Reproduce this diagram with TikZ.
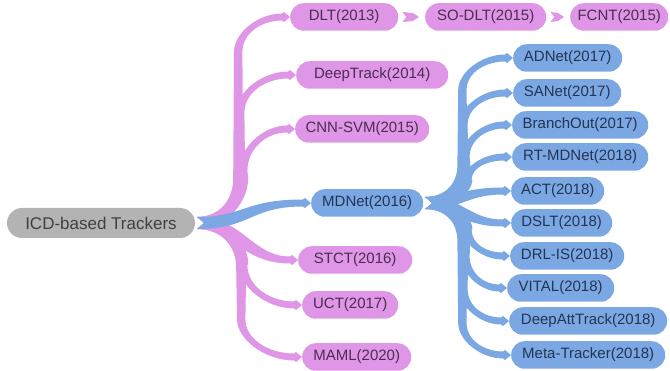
\documentclass[tikz,border=0pt]{standalone}
\usepackage{fontspec}
\setmainfont{Liberation Sans}
\usetikzlibrary{calc}

\definecolor{pinkc}{RGB}{224,150,230}
\definecolor{bluec}{RGB}{123,168,227}
\definecolor{rootc}{RGB}{179,179,179}
\definecolor{pinktext}{RGB}{74,45,80}
\definecolor{bluetext}{RGB}{36,52,84}
\definecolor{roottext}{RGB}{64,64,64}

\tikzset{
  leaf/.style={rectangle, rounded corners=13.5pt, minimum height=27.5pt,
    inner xsep=4pt, inner ysep=0pt, font=\fontsize{15}{18}\selectfont, anchor=west},
  pk/.style={leaf, fill=pinkc, text=pinktext},
  bl/.style={leaf, fill=bluec, text=bluetext},
  rootbox/.style={rectangle, rounded corners=15pt, minimum height=30pt,
    minimum width=188pt, inner xsep=4pt, fill=rootc, text=roottext,
    font=\fontsize{17}{20}\selectfont}
}

% Smooth S-shaped tapered branch from #1 to #2 in colour #3;
% #4 = reach of the first control point, #5 = x offset of the second one.
\newcommand\sbranch[5]{%
  \fill[#3] let \p1=($(#1.east)+(2,0)$), \p2=($(#2.west)+(-8,0)$),
    \n1={max(-1,min(1,(\y2-\y1)/30pt))} in
    (\x1,\y1+6pt)
      .. controls (\x1+#4pt-\n1*5pt,\y1+6pt) and (\x1+#5pt-\n1*5pt,\y2+3.5pt) ..
    (\x2,\y2+3.5pt) -- (\x2+2pt,\y2+5pt) -- (\x2+8pt,\y2)
    -- (\x2+2pt,\y2-5pt) -- (\x2,\y2-3.5pt)
      .. controls (\x1+#5pt+\n1*5pt,\y2-3.5pt) and (\x1+#4pt+\n1*5pt,\y1-6pt) ..
    (\x1,\y1-6pt) -- (\x1+7pt,\y1) -- cycle;}

% Tree-style tapered branch: bend, vertical run, bend.
% #4 = x offset of the vertical run, #5 / #6 = largest first / second bend height.
\newcommand\tbranch[6]{%
  \fill[#3] let \p1=($(#1.east)+(2,0)$), \p2=($(#2.west)+(-8,0)$),
    \n1={sign(\y2-\y1)},
    \n2={min(#5,abs(\y2-\y1)/2)},
    \n3={min(#6,abs(\y2-\y1)/2)},
    \n4={\x1+#4pt} in
    (\x1,\y1+6pt)
      .. controls (\x1+0.55*#4pt-\n1*3pt,\y1+6pt)
             and (\n4*1pt-\n1*5pt,\y1+\n1*0.45*\n2*1pt) ..
    (\n4*1pt-\n1*5pt,\y1+\n1*\n2*1pt)
    -- (\n4*1pt-\n1*4.2pt,\y2-\n1*\n3*1pt)
      .. controls (\n4*1pt-\n1*4.2pt,\y2-\n1*0.45*\n3*1pt)
             and (\n4*1pt+0.5*\x2-0.5*\n4*1pt-\n1*2pt,\y2+3.5pt) ..
    (\x2,\y2+3.5pt) -- (\x2+2pt,\y2+5pt) -- (\x2+8pt,\y2)
    -- (\x2+2pt,\y2-5pt) -- (\x2,\y2-3.5pt)
      .. controls (\n4*1pt+0.5*\x2-0.5*\n4*1pt+\n1*2pt,\y2-3.5pt)
             and (\n4*1pt+\n1*4.2pt,\y2-\n1*0.45*\n3*1pt) ..
    (\n4*1pt+\n1*4.2pt,\y2-\n1*\n3*1pt)
    -- (\n4*1pt+\n1*5pt,\y1+\n1*\n2*1pt)
      .. controls (\n4*1pt+\n1*5pt,\y1+\n1*0.45*\n2*1pt)
             and (\x1+0.55*#4pt+\n1*3pt,\y1-6pt) ..
    (\x1,\y1-6pt) -- (\x1+7pt,\y1) -- cycle;}

% Short notched chevron between two nodes in a row
\newcommand\chev[3]{%
  \fill[#3] let \p1=($(#1.east)+(4,0)$), \p2=($(#2.west)+(-6,0)$) in
    (\x1,\y1+5pt) -- (\x2-6pt,\y1+4pt) -- (\x2,\y1) -- (\x2-6pt,\y1-4pt)
    -- (\x1,\y1-5pt) -- (\x1+4pt,\y1) -- cycle;}

\begin{document}
\begin{tikzpicture}[x=1pt,y=-1pt]
\useasboundingbox (0,0) rectangle (670,371);

% root
\node[rootbox] (root) at (101,223) {ICD-based Trackers};

% first-level methods
\node[pk, minimum width=108pt] (dlt)   at (290,17)  {DLT(2013)};
\node[pk, minimum width=121pt] (sodlt) at (425,17)  {SO-DLT(2015)};
\node[pk, minimum width=98pt]  (fcnt)  at (570,17)  {FCNT(2015)};
\node[pk, minimum width=152pt] (deep)  at (296,75)  {DeepTrack(2014)};
\node[pk, minimum width=134pt] (cnn)   at (295,129) {CNN-SVM(2015)};
\node[bl, minimum width=112pt] (md)    at (311,203) {MDNet(2016)};
\node[pk, minimum width=114pt] (stct)  at (298,260) {STCT(2016)};
\node[pk, minimum width=96pt]  (uct)   at (302,305) {UCT(2017)};
\node[pk, minimum width=109pt] (maml)  at (302,357) {MAML(2020)};

% MDNet descendants
\node[bl, minimum width=109pt] (adnet)  at (513,58)  {ADNet(2017)};
\node[bl, minimum width=108pt] (sanet)  at (513,93)  {SANet(2017)};
\node[bl, minimum width=136pt] (branch) at (512,125) {BranchOut(2017)};
\node[bl, minimum width=136pt] (rtmd)   at (512,157) {RT-MDNet(2018)};
\node[bl, minimum width=93pt]  (act)    at (511,191) {ACT(2018)};
\node[bl, minimum width=101pt] (dslt)   at (511,223) {DSLT(2018)};
\node[bl, minimum width=114pt] (drl)    at (510,256) {DRL-IS(2018)};
\node[bl, minimum width=107pt] (vital)  at (507,288) {VITAL(2018)};
\node[bl, minimum width=158pt] (datt)   at (509,321) {DeepAttTrack(2018)};
\node[bl, minimum width=154pt] (meta)   at (511,355) {Meta-Tracker(2018)};

% branches from the root
\tbranch{root}{dlt}{pinkc}{41}{45}{35}
\tbranch{root}{deep}{pinkc}{43}{45}{38}
\tbranch{root}{cnn}{pinkc}{46}{45}{42}
\sbranch{root}{stct}{pinkc}{40}{50}
\tbranch{root}{uct}{pinkc}{46}{45}{40}
\tbranch{root}{maml}{pinkc}{44}{45}{38}
\sbranch{root}{md}{bluec}{50}{50}

% chain along the top row
\chev{dlt}{sodlt}{pinkc}
\chev{sodlt}{fcnt}{pinkc}

% branches from MDNet
\tbranch{md}{adnet}{bluec}{37}{38}{32}
\tbranch{md}{sanet}{bluec}{38}{38}{32}
\tbranch{md}{branch}{bluec}{40}{38}{32}
\tbranch{md}{rtmd}{bluec}{42}{38}{30}
\sbranch{md}{act}{bluec}{35}{40}
\sbranch{md}{dslt}{bluec}{35}{40}
\tbranch{md}{drl}{bluec}{42}{38}{30}
\tbranch{md}{vital}{bluec}{40}{38}{32}
\tbranch{md}{datt}{bluec}{38}{38}{32}
\tbranch{md}{meta}{bluec}{37}{38}{32}
\end{tikzpicture}
\end{document}
